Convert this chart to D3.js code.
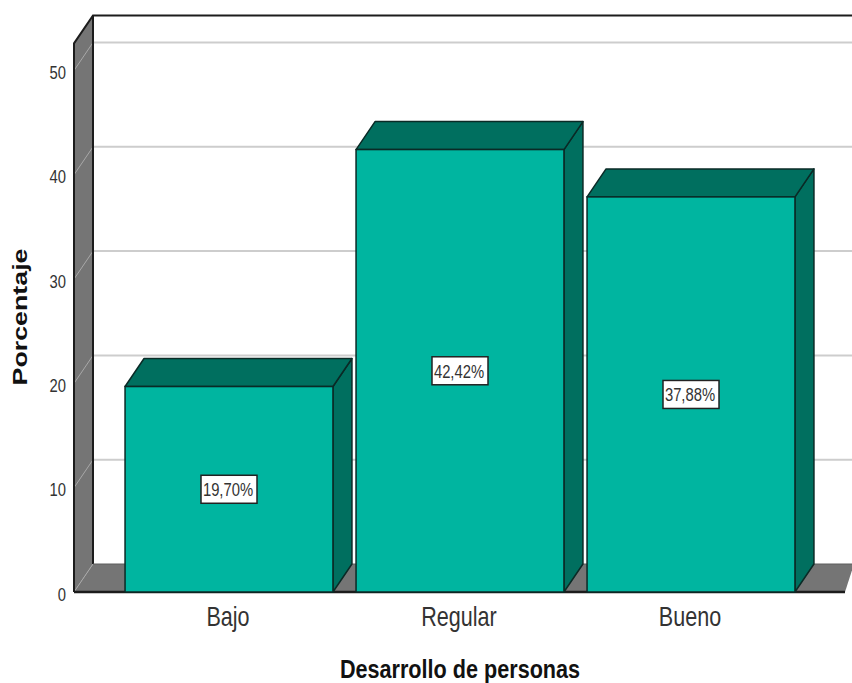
<!DOCTYPE html>
<html>
<head>
<meta charset="utf-8">
<script src="https://cdn.jsdelivr.net/npm/d3@7/dist/d3.min.js"></script>
<style>
html,body{margin:0;padding:0;background:#fff;overflow:hidden}
svg{display:block}
text{font-family:"Liberation Sans",Arial,sans-serif;fill:#333}
</style>
</head>
<body>
<svg id="c" width="852" height="683"></svg>
<script>
const categories = ["Bajo", "Regular", "Bueno"];
const values = [19.70, 42.42, 37.88];
const valueLabels = ["19,70%", "42,42%", "37,88%"];
const yTicks = [0, 10, 20, 30, 40, 50];
const yTitle = "Porcentaje";
const xTitle = "Desarrollo de personas";

const W = 852, H = 683;
const depthX = 19, depthY = 28;
const left = 74, right = 845, base = 592;
const scaleYv = 10.43;
const yMax = 52.6;

const svg = d3.select("#c");
const y = d3.scaleLinear().domain([0, yMax]).range([base, base - yMax * scaleYv]);
const x = d3.scaleBand().domain(categories).range([113.5, 806.5]).paddingInner(0.1).paddingOuter(0.05);

const GRAY = "#757575", DARK = "#1c1c1c", GRID = "#cdcdcd";
const FRONT = "#00b5a0", SIDE = "#006f5f", STROKE = "#0a2a26";
const poly = pts => pts.map(p => p.join(",")).join(" ");

const topY = y(yMax);

// left wall
svg.append("polygon").attr("fill", GRAY)
  .attr("points", poly([[left, topY], [left + depthX, topY - depthY], [left + depthX, base - depthY], [left, base]]));
// floor
svg.append("polygon").attr("fill", GRAY)
  .attr("points", poly([[left, base], [left + depthX, base - depthY], [W + 2, base - depthY], [right, base]]));

// grid lines: back wall + left wall diagonal
const grid = svg.append("g");
yTicks.forEach(t => {
  if (t > 0) {
    grid.append("line").attr("x1", left + depthX).attr("x2", W)
      .attr("y1", y(t) - depthY).attr("y2", y(t) - depthY)
      .attr("stroke", GRID).attr("stroke-width", 2);
  }
  grid.append("line").attr("x1", left).attr("x2", left + depthX)
    .attr("y1", y(t)).attr("y2", y(t) - depthY)
    .attr("stroke", "#a8a8a8").attr("stroke-width", 1);
});

// wall borders
svg.append("path").attr("fill", "none").attr("stroke", DARK).attr("stroke-width", 2)
  .attr("d", `M${left},${base} L${left},${topY} L${left + depthX},${topY - depthY} L${W},${topY - depthY}`);
svg.append("line").attr("x1", left + depthX).attr("x2", left + depthX)
  .attr("y1", topY - depthY).attr("y2", base - depthY)
  .attr("stroke", DARK).attr("stroke-width", 2);
svg.append("line").attr("x1", left + depthX).attr("x2", W)
  .attr("y1", base - depthY).attr("y2", base - depthY)
  .attr("stroke", "#5e5e5e").attr("stroke-width", 1);
svg.append("line").attr("x1", left).attr("x2", right)
  .attr("y1", base).attr("y2", base)
  .attr("stroke", DARK).attr("stroke-width", 2.5);

// bars
const bars = svg.append("g").selectAll("g").data(categories).join("g");
bars.each(function (c, i) {
  const g = d3.select(this);
  const x0 = x(c), x1 = x0 + x.bandwidth(), yt = y(values[i]);
  g.append("polygon").attr("fill", SIDE).attr("stroke", STROKE).attr("stroke-width", 1.5)
    .attr("stroke-linejoin", "round")
    .attr("points", poly([[x1, yt], [x1 + depthX, yt - depthY], [x1 + depthX, base - depthY], [x1, base]]));
  g.append("polygon").attr("fill", SIDE).attr("stroke", STROKE).attr("stroke-width", 1.5)
    .attr("stroke-linejoin", "round")
    .attr("points", poly([[x0, yt], [x0 + depthX, yt - depthY], [x1 + depthX, yt - depthY], [x1, yt]]));
  g.append("rect").attr("x", x0).attr("y", yt).attr("width", x.bandwidth()).attr("height", base - yt)
    .attr("fill", FRONT).attr("stroke", STROKE).attr("stroke-width", 1.5);
});

// value labels
const labels = svg.append("g").selectAll("g").data(categories).join("g")
  .attr("transform", (c, i) => `translate(${x(c) + x.bandwidth() / 2},${y(values[i] / 2)})`);
labels.append("rect").attr("x", -28).attr("y", -14).attr("width", 56).attr("height", 28)
  .attr("fill", "#fff").attr("stroke", "#222").attr("stroke-width", 1.5);
labels.append("text").attr("text-anchor", "middle").attr("font-size", 19)
  .attr("transform", "translate(-1,7) scale(0.78,1)")
  .text((c, i) => valueLabels[i]);

// y axis
const yAxis = svg.append("g").attr("transform", `translate(${left},0)`)
  .call(d3.axisLeft(y).tickValues(yTicks).tickSize(0).tickPadding(0).tickFormat(d3.format("d")));
yAxis.select(".domain").remove();
yAxis.selectAll("text")
  .attr("font-size", 18.5).attr("x", null).attr("dy", null)
  .style("font-family", '"Liberation Sans",Arial,sans-serif')
  .attr("text-anchor", "end").style("fill", "#333")
  .attr("transform", "translate(-8,8) scale(0.8,1)");

// x axis
const xAxis = svg.append("g").attr("transform", `translate(0,${base})`)
  .call(d3.axisBottom(x).tickSize(0).tickPadding(0));
xAxis.select(".domain").remove();
xAxis.selectAll("text")
  .attr("font-size", 28).attr("y", null).attr("dy", null)
  .style("font-family", '"Liberation Sans",Arial,sans-serif')
  .attr("text-anchor", "middle").style("fill", "#333")
  .attr("transform", "translate(-1,34) scale(0.77,1)");

// titles
svg.append("text").attr("text-anchor", "middle").attr("font-weight", "bold").attr("font-size", 25)
  .style("fill", "#111")
  .attr("transform", "translate(460,677.5) scale(0.865,1)").text(xTitle);
svg.append("text").attr("text-anchor", "middle").attr("font-weight", "bold").attr("font-size", 26.8)
  .style("fill", "#111")
  .attr("transform", "translate(27,317) rotate(-90) scale(1,0.78)").text(yTitle);
</script>
</body>
</html>
